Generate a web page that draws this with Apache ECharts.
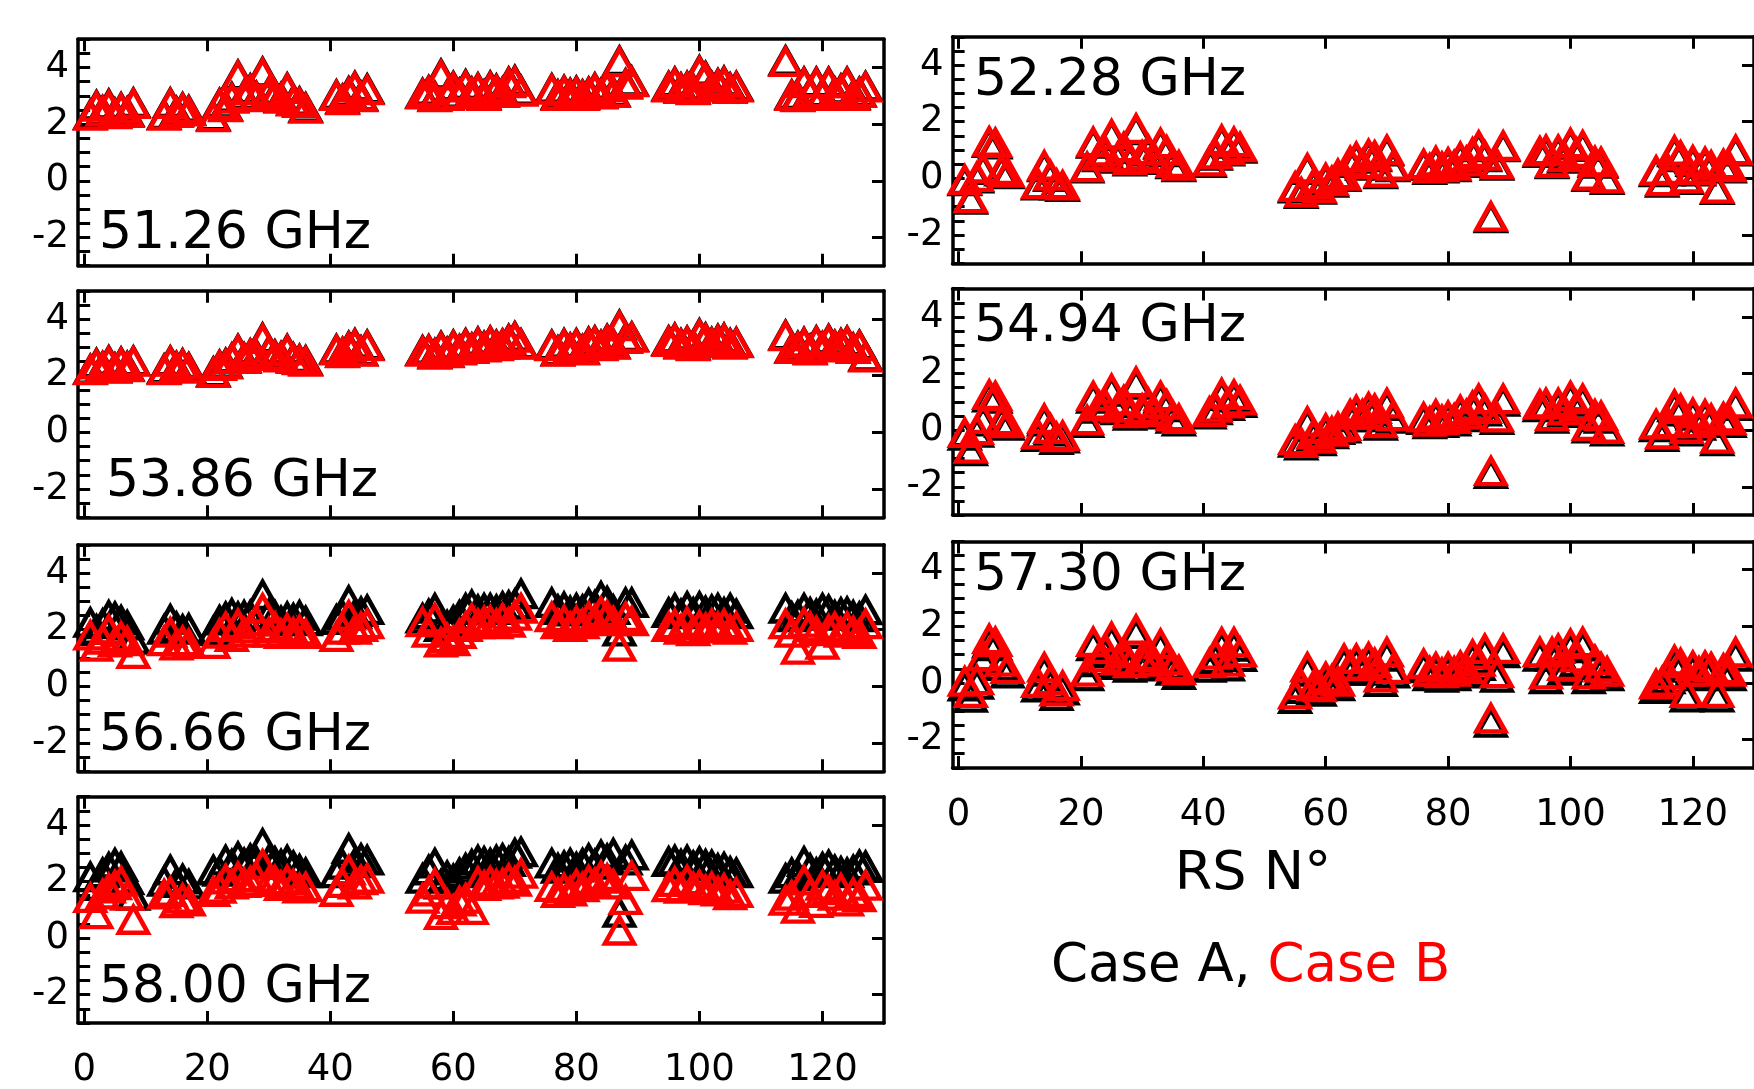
<!DOCTYPE html>
<html>
<head>
<meta charset="utf-8">
<script src="https://cdn.jsdelivr.net/npm/echarts@6/dist/echarts.min.js"></script>
<style>
  html, body { margin: 0; padding: 0; background: #ffffff; }
  #chart { width: 1754px; height: 1089px; }
</style>
</head>
<body>
<div id="chart"></div>
<script>
// Radiosonde numbers (x values shared by every panel)
const stations = [
  1, 2, 3, 4, 5, 6, 7, 8,
  13, 14, 15, 16, 17,
  21, 22, 23, 24, 25, 26, 27, 28, 29, 30, 31, 32, 33, 34, 35, 36,
  41, 42, 43, 44, 45, 46,
  55, 56, 57, 58, 59, 60, 61, 62, 63, 64, 65, 66, 67, 68, 69, 70, 71,
  76, 77, 78, 79, 80, 81, 82, 83, 84, 85, 86, 87, 88, 89,
  95, 96, 97, 98, 99, 100, 101, 102, 103, 104, 105, 106,
  114, 115, 116, 117, 118, 119, 120, 121, 122, 123, 124, 125, 126, 127
];

const xTickValues = [0, 20, 40, 60, 80, 100, 120];
const yTickValues = [-2, 0, 2, 4];

// 51.26 GHz
const caseA_5126 = [
  2.33, 2.66, 2.47, 2.70, 2.38, 2.58, 2.43, 2.75,
  2.33, 2.75, 2.44, 2.58, 2.48,
  2.28, 2.73, 2.63, 2.94, 3.73, 3.03, 3.24, 2.98, 3.83, 3.13, 3.04, 2.93, 3.28, 2.83, 2.78, 2.58,
  3.03, 2.88, 3.14, 3.33, 2.98, 3.24,
  3.08, 3.18, 2.98, 3.76, 3.03, 3.33, 3.08, 3.39, 3.13, 3.28, 3.03, 3.34, 3.23, 3.13, 3.48, 3.54, 3.18,
  3.25, 3.03, 3.19, 3.08, 3.16, 3.03, 3.13, 3.28, 3.08, 3.33, 3.13, 4.23, 3.43, 3.51,
  3.33, 3.48, 3.28, 3.33, 3.23, 3.89, 3.68, 3.33, 3.43, 3.51, 3.28, 3.33,
  4.24, 3.03, 2.98, 3.48, 3.13, 3.48, 3.03, 3.48, 3.13, 3.23, 3.48, 3.03, 3.13, 3.33
];
const caseB_5126 = [
  2.30, 2.62, 2.45, 2.66, 2.35, 2.55, 2.40, 2.72,
  2.30, 2.72, 2.40, 2.55, 2.45,
  2.25, 2.70, 2.60, 2.90, 3.70, 3.00, 3.20, 2.95, 3.80, 3.10, 3.00, 2.90, 3.25, 2.80, 2.75, 2.55,
  3.00, 2.85, 3.10, 3.30, 2.95, 3.20,
  3.05, 3.15, 2.95, 3.72, 3.00, 3.30, 3.05, 3.35, 3.10, 3.25, 3.00, 3.30, 3.20, 3.10, 3.45, 3.50, 3.15,
  3.22, 3.00, 3.16, 3.05, 3.13, 3.00, 3.10, 3.25, 3.05, 3.30, 3.10, 4.19, 3.40, 3.48,
  3.30, 3.45, 3.25, 3.30, 3.20, 3.86, 3.65, 3.30, 3.40, 3.48, 3.25, 3.30,
  4.20, 3.00, 2.95, 3.45, 3.10, 3.45, 3.00, 3.45, 3.10, 3.20, 3.45, 3.00, 3.10, 3.30
];

// 53.86 GHz
const caseA_5386 = [
  2.22, 2.43, 2.32, 2.53, 2.27, 2.48, 2.33, 2.52,
  2.23, 2.52, 2.33, 2.42, 2.28,
  2.13, 2.37, 2.43, 2.62, 2.93, 2.63, 2.77, 2.73, 3.33, 2.87, 2.73, 2.67, 2.93, 2.63, 2.57, 2.53,
  2.93, 2.82, 3.03, 3.13, 2.87, 3.08,
  2.88, 2.92, 2.78, 3.03, 2.82, 3.08, 2.92, 3.13, 2.97, 3.18, 3.03, 3.22, 3.08, 3.12, 3.28, 3.38, 3.12,
  3.08, 2.87, 3.13, 2.97, 3.13, 2.92, 3.18, 3.23, 3.07, 3.28, 3.12, 3.78, 3.33, 3.37,
  3.23, 3.32, 3.13, 3.22, 3.08, 3.48, 3.33, 3.17, 3.28, 3.32, 3.13, 3.17,
  3.43, 2.97, 3.03, 3.17, 2.93, 3.23, 3.02, 3.28, 3.07, 3.13, 3.22, 2.97, 3.08, 2.68
];
const caseB_5386 = [
  2.20, 2.40, 2.30, 2.50, 2.25, 2.45, 2.30, 2.50,
  2.20, 2.50, 2.30, 2.40, 2.25,
  2.10, 2.35, 2.40, 2.60, 2.90, 2.60, 2.75, 2.70, 3.30, 2.85, 2.70, 2.65, 2.90, 2.60, 2.55, 2.50,
  2.90, 2.80, 3.00, 3.10, 2.85, 3.05,
  2.85, 2.90, 2.75, 3.00, 2.80, 3.05, 2.90, 3.10, 2.95, 3.15, 3.00, 3.20, 3.05, 3.10, 3.25, 3.35, 3.10,
  3.05, 2.85, 3.10, 2.95, 3.10, 2.90, 3.15, 3.20, 3.05, 3.25, 3.10, 3.75, 3.30, 3.35,
  3.20, 3.30, 3.10, 3.20, 3.05, 3.45, 3.30, 3.15, 3.25, 3.30, 3.10, 3.15,
  3.40, 2.95, 3.00, 3.15, 2.90, 3.20, 3.00, 3.25, 3.05, 3.10, 3.20, 2.95, 3.05, 2.65
];

// 56.66 GHz
const caseA_5666 = [
  2.25, 2.00, 2.20, 2.50, 2.45, 2.33, 2.15, 1.65,
  2.00, 2.36, 2.10, 2.00, 2.04,
  1.95, 2.33, 2.45, 2.57, 2.45, 2.50, 2.50, 2.30, 3.23, 2.55, 2.50, 2.30, 2.45, 2.40, 2.50, 2.30,
  2.35, 2.50, 3.02, 2.55, 2.63, 2.70,
  2.40, 2.55, 2.75, 2.10, 2.15, 2.33, 2.50, 2.75, 2.87, 2.70, 2.75, 2.75, 2.70, 2.81, 2.85, 2.90, 3.26,
  2.95, 2.70, 2.80, 2.65, 2.75, 2.70, 2.93, 2.85, 3.17, 3.00, 2.70, 1.94, 2.95, 2.95,
  2.60, 2.75, 2.55, 2.81, 2.60, 2.81, 2.65, 2.70, 2.75, 2.60, 2.75, 2.55,
  2.75, 2.45, 2.50, 2.75, 2.60, 2.55, 2.75, 2.70, 2.50, 2.60, 2.63, 2.50, 2.45, 2.69
];
const caseB_5666 = [
  1.80, 1.40, 1.65, 2.00, 1.55, 1.75, 1.60, 1.15,
  1.60, 1.90, 1.45, 1.60, 1.50,
  1.50, 1.86, 2.10, 1.75, 2.20, 1.90, 2.05, 2.30, 2.75, 1.90, 2.10, 1.85, 2.04, 1.90, 1.98, 1.85,
  1.75, 2.00, 2.50, 2.00, 2.10, 2.20,
  2.27, 1.90, 2.40, 1.55, 1.70, 1.60, 1.85, 2.10, 2.39, 2.20, 2.30, 2.33, 2.20, 2.40, 2.25, 2.50, 2.75,
  2.45, 2.20, 2.33, 2.10, 2.30, 2.20, 2.45, 2.35, 2.63, 2.50, 2.30, 1.40, 2.45, 2.30,
  2.10, 2.20, 2.00, 2.27, 1.95, 2.15, 2.05, 2.20, 2.10, 2.20, 2.00, 2.10,
  2.20, 1.90, 1.30, 2.25, 2.10, 1.95, 1.47, 2.00, 2.10, 1.90, 2.10, 1.95, 1.85, 2.20
];

// 58.00 GHz
const caseA_5800 = [
  2.16, 1.85, 2.30, 2.50, 2.64, 2.52, 2.05, 1.50,
  2.00, 2.40, 1.95, 2.08, 1.90,
  2.40, 2.35, 2.75, 2.60, 2.87, 2.65, 2.80, 2.70, 3.34, 2.75, 2.70, 2.60, 2.75, 2.55, 2.43, 2.30,
  2.30, 2.60, 3.16, 2.65, 2.81, 2.75,
  2.10, 2.40, 2.64, 1.90, 2.20, 2.08, 2.30, 2.46, 2.60, 2.75, 2.70, 2.64, 2.75, 2.81, 2.70, 2.99, 3.04,
  2.64, 2.46, 2.55, 2.64, 2.50, 2.64, 2.81, 2.60, 2.93, 2.80, 2.99, 0.90, 2.75, 2.93,
  2.70, 2.75, 2.60, 2.75, 2.55, 2.70, 2.60, 2.58, 2.45, 2.50, 2.35, 2.30,
  2.10, 2.30, 2.20, 2.70, 2.45, 2.30, 2.50, 2.58, 2.40, 2.35, 2.30, 2.40, 2.58, 2.55
];
const caseB_5800 = [
  1.42, 0.85, 1.55, 1.76, 1.87, 2.00, 1.50, 0.65,
  1.55, 1.64, 1.24, 1.40, 1.30,
  1.64, 1.75, 2.08, 1.90, 2.16, 1.95, 2.00, 2.15, 2.60, 1.99, 2.05, 1.85, 2.05, 1.90, 1.76, 1.80,
  1.64, 1.95, 2.40, 1.90, 2.05, 2.10,
  1.40, 1.65, 1.93, 0.82, 1.20, 1.00, 1.30, 1.40, 1.00, 1.99, 1.85, 2.00, 1.90, 1.93, 2.10, 2.00, 2.28,
  1.81, 1.60, 1.76, 1.65, 1.90, 1.80, 2.05, 1.95, 2.20, 2.10, 1.90, 0.27, 1.35, 2.20,
  1.80, 1.99, 1.75, 2.05, 1.80, 1.87, 1.70, 1.81, 1.65, 1.75, 1.52, 1.60,
  1.33, 1.50, 1.04, 2.04, 1.60, 1.25, 1.86, 1.70, 1.50, 1.75, 1.30, 1.60, 1.45, 1.86
];

// 52.28 GHz
const caseA_5228 = [
  -0.10, -0.75, 0.00, 0.30, 1.25, 1.20, 0.25, 0.15,
  -0.25, 0.40, 0.05, -0.25, -0.30,
  0.35, 1.23, 0.75, 0.90, 1.50, 0.70, 1.05, 0.60, 1.70, 0.75, 0.95, 0.65, 1.19, 0.93, 0.50, 0.40,
  0.55, 0.80, 1.31, 0.95, 1.23, 1.05,
  -0.35, -0.55, 0.30, -0.25, -0.40, -0.05, -0.15, 0.10, 0.05, 0.55, 0.70, 0.45, 0.80, 0.75, 0.15, 0.95, 0.40,
  0.45, 0.30, 0.55, 0.35, 0.50, 0.40, 0.70, 0.55, 0.85, 1.10, 0.75, -1.40, 0.45, 1.10,
  0.90, 0.95, 0.50, 0.95, 0.70, 1.19, 0.85, 1.11, 0.05, 0.55, 0.52, -0.05,
  0.22, -0.15, 0.25, 0.93, 0.75, -0.05, 0.58, 0.25, 0.52, 0.40, -0.41, 0.45, 0.35, 0.95
];
const caseB_5228 = [
  -0.05, -0.70, 0.05, 0.35, 1.30, 1.25, 0.30, 0.20,
  -0.20, 0.45, 0.10, -0.20, -0.25,
  0.40, 1.28, 0.80, 0.95, 1.55, 0.75, 1.10, 0.65, 1.75, 0.80, 1.00, 0.70, 1.24, 0.98, 0.55, 0.45,
  0.60, 0.85, 1.36, 1.00, 1.28, 1.10,
  -0.30, -0.50, 0.35, -0.20, -0.35, 0.00, -0.10, 0.15, 0.10, 0.60, 0.75, 0.50, 0.85, 0.80, 0.20, 1.00, 0.45,
  0.50, 0.35, 0.60, 0.40, 0.55, 0.45, 0.75, 0.60, 0.90, 1.15, 0.80, -1.35, 0.50, 1.15,
  0.95, 1.00, 0.55, 1.00, 0.75, 1.24, 0.90, 1.16, 0.10, 0.60, 0.57, 0.00,
  0.27, -0.10, 0.30, 0.98, 0.80, 0.00, 0.63, 0.30, 0.57, 0.45, -0.36, 0.50, 0.40, 1.00
];

// 54.94 GHz
const caseA_5494 = [
  -0.19, -0.74, -0.09, 0.31, 1.16, 1.11, 0.26, 0.16,
  -0.24, 0.31, -0.04, -0.34, -0.29,
  0.26, 1.11, 0.76, 0.81, 1.36, 0.71, 0.96, 0.51, 1.61, 0.66, 0.86, 0.56, 1.11, 0.81, 0.41, 0.31,
  0.56, 0.71, 1.21, 0.86, 1.16, 0.96,
  -0.44, -0.54, 0.21, -0.24, -0.39, -0.04, -0.14, 0.01, 0.06, 0.46, 0.61, 0.46, 0.71, 0.66, 0.16, 0.86, 0.41,
  0.36, 0.21, 0.46, 0.26, 0.41, 0.31, 0.61, 0.46, 0.76, 1.01, 0.66, -1.54, 0.36, 1.01,
  0.81, 0.86, 0.41, 0.86, 0.61, 1.11, 0.76, 1.01, 0.06, 0.46, 0.41, -0.04,
  0.11, -0.24, 0.16, 0.81, 0.66, -0.04, 0.51, 0.16, 0.46, 0.31, -0.39, 0.36, 0.26, 0.86
];
const caseB_5494 = [
  -0.10, -0.65, 0.00, 0.40, 1.25, 1.20, 0.35, 0.25,
  -0.15, 0.40, 0.05, -0.25, -0.20,
  0.35, 1.20, 0.85, 0.90, 1.45, 0.80, 1.05, 0.60, 1.70, 0.75, 0.95, 0.65, 1.20, 0.90, 0.50, 0.40,
  0.65, 0.80, 1.30, 0.95, 1.25, 1.05,
  -0.35, -0.45, 0.30, -0.15, -0.30, 0.05, -0.05, 0.10, 0.15, 0.55, 0.70, 0.55, 0.80, 0.75, 0.25, 0.95, 0.50,
  0.45, 0.30, 0.55, 0.35, 0.50, 0.40, 0.70, 0.55, 0.85, 1.10, 0.75, -1.45, 0.45, 1.10,
  0.90, 0.95, 0.50, 0.95, 0.70, 1.20, 0.85, 1.10, 0.15, 0.55, 0.50, 0.05,
  0.20, -0.15, 0.25, 0.90, 0.75, 0.05, 0.60, 0.25, 0.55, 0.40, -0.30, 0.45, 0.35, 0.95
];

// 57.30 GHz
const caseA_5730 = [
  -0.12, -0.52, -0.06, 0.80, 1.40, 1.30, 0.60, 0.34,
  -0.16, 0.40, -0.06, -0.46, -0.26,
  0.24, 1.30, 0.74, 1.05, 1.47, 0.64, 0.90, 0.54, 1.73, 0.74, 0.80, 0.59, 1.23, 0.64, 0.44, 0.29,
  0.54, 0.84, 1.28, 0.59, 1.28, 0.92,
  -0.56, -0.21, 0.40, -0.26, -0.31, 0.04, -0.06, -0.11, 0.70, 0.44, 0.70, 0.44, 0.75, 0.54, 0.04, 0.93, 0.34,
  0.52, 0.24, 0.40, 0.19, 0.40, 0.24, 0.44, 0.34, 0.85, 0.60, 1.05, -1.40, 0.19, 1.05,
  0.93, 0.14, 0.93, 1.05, 0.44, 1.23, 0.74, 1.29, 0.14, 0.64, 0.40, 0.24,
  -0.21, -0.11, 0.14, 0.65, 0.54, -0.51, 0.44, 0.24, 0.44, 0.40, -0.51, 0.34, 0.24, 0.93
];
const caseB_5730 = [
  0.05, -0.35, 0.10, 0.95, 1.55, 1.45, 0.75, 0.50,
  0.00, 0.55, 0.10, -0.30, -0.10,
  0.40, 1.45, 0.90, 1.20, 1.62, 0.80, 1.05, 0.70, 1.88, 0.90, 0.96, 0.75, 1.38, 0.80, 0.60, 0.45,
  0.70, 1.00, 1.43, 0.75, 1.43, 1.08,
  -0.40, -0.05, 0.55, -0.10, -0.15, 0.20, 0.10, 0.05, 0.85, 0.60, 0.85, 0.60, 0.90, 0.70, 0.20, 1.08, 0.50,
  0.67, 0.40, 0.55, 0.35, 0.55, 0.40, 0.60, 0.50, 1.00, 0.75, 1.20, -1.25, 0.35, 1.20,
  1.08, 0.30, 1.08, 1.20, 0.60, 1.38, 0.90, 1.44, 0.30, 0.80, 0.55, 0.40,
  -0.05, 0.05, 0.30, 0.80, 0.70, -0.35, 0.60, 0.40, 0.60, 0.55, -0.35, 0.50, 0.40, 1.08
];

// Panel layout: one grid per frequency
const PANEL_W = 806, PANEL_H = 226.5;
const panels = [
  { name: '51.26 GHz', a: caseA_5126, b: caseB_5126, left: 78,    top: 39.2,  tx: 99,  ty: 234, xLabels: false },
  { name: '53.86 GHz', a: caseA_5386, b: caseB_5386, left: 78,    top: 290.8, tx: 106, ty: 482, xLabels: false },
  { name: '56.66 GHz', a: caseA_5666, b: caseB_5666, left: 78,    top: 544.8, tx: 99,  ty: 736, xLabels: false },
  { name: '58.00 GHz', a: caseA_5800, b: caseB_5800, left: 78,    top: 796.7, tx: 99,  ty: 988, xLabels: true  },
  { name: '52.28 GHz', a: caseA_5228, b: caseB_5228, left: 952.5, top: 36.8,  tx: 974, ty: 81,  xLabels: false },
  { name: '54.94 GHz', a: caseA_5494, b: caseB_5494, left: 952.5, top: 288.6, tx: 974, ty: 327, xLabels: false },
  { name: '57.30 GHz', a: caseA_5730, b: caseB_5730, left: 952.5, top: 541.4, tx: 974, ty: 576, xLabels: true  }
];

const FONT = 'DejaVu Sans';
const lineStyle = { color: '#000', width: 3.5 };

const grid = [], xAxis = [], yAxis = [], series = [], graphic = [];

panels.forEach((p, i) => {
  grid.push({ left: p.left, top: p.top, width: PANEL_W, height: PANEL_H, containLabel: false });

  const xBase = {
    gridIndex: i, type: 'value', min: -1, max: 130,
    axisLine: { show: true, onZero: false, lineStyle },
    axisTick: { show: true, inside: true, length: 12, lineStyle: { color: '#000', width: 3 }, customValues: xTickValues },
    splitLine: { show: false }
  };
  xAxis.push(Object.assign({}, xBase, {
    position: 'bottom',
    axisLabel: { show: p.xLabels, customValues: xTickValues, fontSize: 37, fontFamily: FONT, color: '#000', margin: 29 }
  }));
  xAxis.push(Object.assign({}, xBase, { position: 'top', axisLabel: { show: false } }));

  const yBase = {
    gridIndex: i, type: 'value', min: -3, max: 5,
    axisLine: { show: true, onZero: false, lineStyle },
    axisTick: { show: true, inside: true, length: 12, lineStyle: { color: '#000', width: 3 }, customValues: yTickValues },
    splitLine: { show: false }
  };
  yAxis.push(Object.assign({}, yBase, {
    position: 'left',
    axisLabel: { show: true, customValues: yTickValues, fontSize: 37, fontFamily: FONT, color: '#000', margin: 9 }
  }));
  yAxis.push(Object.assign({}, yBase, { position: 'right', axisLabel: { show: false } }));
  // minor ticks every 0.5 on both sides
  ['left', 'right'].forEach(pos => {
    yAxis.push({
      gridIndex: i, type: 'value', min: -3, max: 5, interval: 0.5, position: pos,
      axisLine: { show: false },
      axisTick: { show: true, inside: true, length: 6, lineStyle: { color: '#000', width: 3 } },
      axisLabel: { show: false }, splitLine: { show: false }
    });
  });

  const mk = (vals, color, z) => ({
    type: 'scatter', xAxisIndex: 2 * i, yAxisIndex: 4 * i,
    data: stations.map((s, k) => [s, vals[k]]),
    symbol: 'triangle', symbolSize: [29, 26],
    itemStyle: { color: 'rgba(0,0,0,0)', borderColor: color, borderWidth: 4.5, borderJoin: 'miter', opacity: 1 },
    emphasis: { disabled: true }, silent: true, z: z, animation: false
  });
  series.push(mk(p.a, '#000000', 2));
  series.push(mk(p.b, '#ff0000', 3));

  graphic.push({
    type: 'text', x: p.tx, y: p.ty, z: 10,
    style: { text: p.name, font: '52px "DejaVu Sans"', fill: '#000', verticalAlign: 'middle' }
  });
});

graphic.push({
  type: 'text', x: 1253, y: 875, z: 10,
  style: { text: 'RS N°', font: '54px "DejaVu Sans"', fill: '#000', align: 'center', verticalAlign: 'middle' }
});
graphic.push({
  type: 'text', x: 1051, y: 967, z: 10,
  style: {
    text: '{a|Case A, }{b|Case B}', font: '53px "DejaVu Sans"', verticalAlign: 'middle',
    rich: {
      a: { fill: '#000', font: '53px "DejaVu Sans"' },
      b: { fill: '#ff0000', font: '53px "DejaVu Sans"' }
    }
  }
});

const chart = echarts.init(document.getElementById('chart'), null, { renderer: 'canvas' });
chart.setOption({
  backgroundColor: '#ffffff',
  animation: false,
  grid, xAxis, yAxis, series, graphic
});
</script>
</body>
</html>
